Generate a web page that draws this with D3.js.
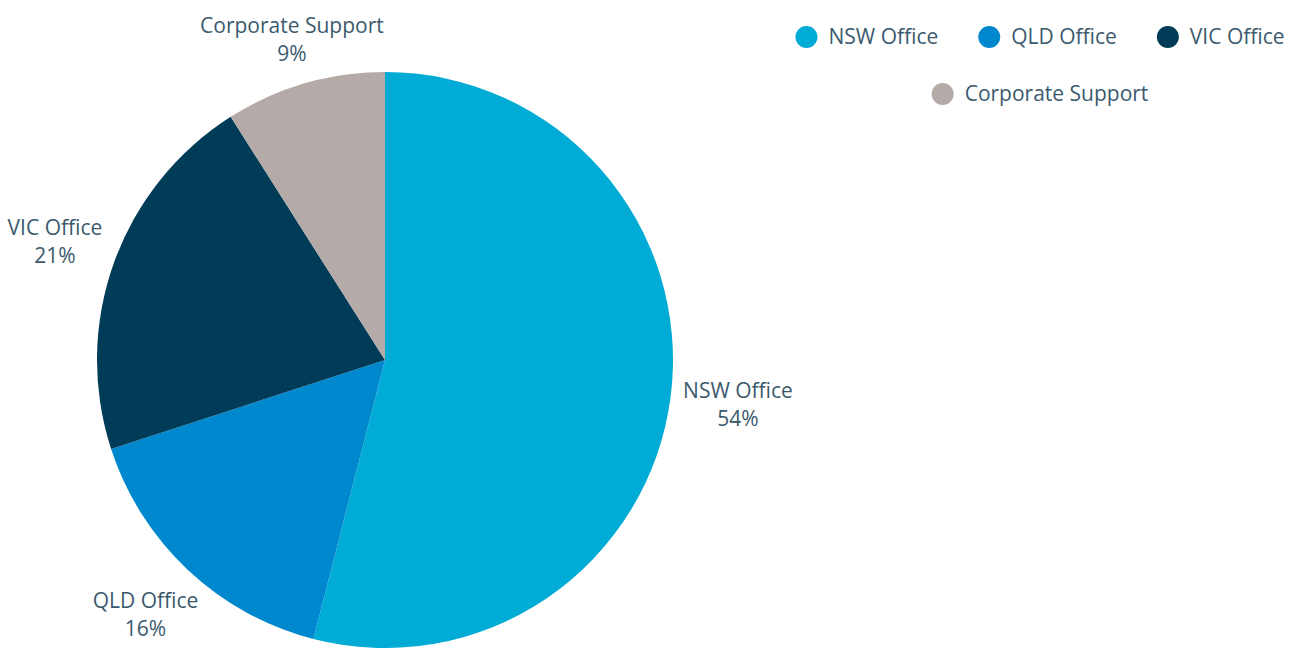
<!DOCTYPE html>
<html>
<head>
<meta charset="utf-8">
<script src="https://cdn.jsdelivr.net/npm/d3@7"></script>
<style>
  body { margin: 0; background: #fff; }
  svg text { font-family: "Open Sans", sans-serif; font-weight: 500; fill: #3b5a6d; }
</style>
</head>
<body>
<div class="container"></div>
<script>
var width = 1305;
var height = 649;
var cx = 385, cy = 360, radius = 288;
var labelClear = 299;
var legendCenter = 1040;
var fontSize = 21;
var lineGap = 28;

var categories = ["NSW Office", "QLD Office", "VIC Office", "Corporate Support"];
var shares = [54, 16, 21, 9];
var colors = ["#00abd5", "#0088cf", "#003b57", "#b4aaa7"];
var legendRows = [[0, 1, 2], [3]];

var data = categories.map((c, i) => ({name: c, value: shares[i], color: colors[i]}));

var svg = d3.select(".container")
  .append("svg")
  .attr("width", width).attr("height", height);

//-----------------------------------------
// 1. PIE
var pie = d3.pie().value(d => d.value).sort(null);
var arc = d3.arc().innerRadius(0).outerRadius(radius);
var arcs = pie(data);

var g = svg.append("g").attr("transform", "translate(" + cx + "," + cy + ")");
g.selectAll(".slice")
  .data(arcs)
  .enter()
  .append("path")
  .attr("class", "slice")
  .attr("d", arc)
  .attr("fill", d => d.data.color);

//-----------------------------------------
// 2. LABELS - two lines, pushed out along the mid angle until the box clears a circle
var labels = g.selectAll(".label")
  .data(arcs)
  .enter()
  .append("text")
  .attr("class", "label")
  .attr("text-anchor", "middle")
  .attr("font-size", fontSize);

labels.append("tspan").attr("x", 0).attr("y", -lineGap / 2).attr("dy", "0.35em").text(d => d.data.name);
labels.append("tspan").attr("x", 0).attr("y", lineGap / 2).attr("dy", "0.35em").text(d => d.data.value + "%");

function box_dist(px, py, hw, hh){
  var dx = Math.max(Math.abs(px) - hw, 0);
  var dy = Math.max(Math.abs(py) - hh, 0);
  return Math.sqrt(dx * dx + dy * dy);
}

labels.attr("transform", function(d) {
  var a = (d.startAngle + d.endAngle) / 2;
  var ux = Math.sin(a), uy = -Math.cos(a);
  var hw = this.getBBox().width / 2;
  var hh = (lineGap + 15) / 2;
  var lo = 0, hi = labelClear + 300;
  for (var k = 0; k < 40; k++) {
    var mid = (lo + hi) / 2;
    if (box_dist(ux * mid, uy * mid, hw, hh) < labelClear) lo = mid; else hi = mid;
  }
  return "translate(" + (ux * hi) + "," + (uy * hi) + ")";
});

//-----------------------------------------
// 3. LEGEND
var legendY = [37, 94];
var symbolR = 11, symbolGap = 11, itemGap = 40;

legendRows.forEach(function(row, r) {
  var lg = svg.append("g");
  var x = 0;
  row.forEach(function(idx) {
    var item = lg.append("g").attr("transform", "translate(" + x + ",0)");
    item.append("circle")
      .attr("cx", symbolR).attr("cy", 0).attr("r", symbolR)
      .attr("fill", colors[idx]);
    var t = item.append("text")
      .attr("x", symbolR * 2 + symbolGap)
      .attr("y", 0)
      .attr("dy", "0.35em")
      .attr("font-size", fontSize)
      .text(categories[idx]);
    x += symbolR * 2 + symbolGap + t.node().getComputedTextLength() + itemGap;
  });
  var rowWidth = x - itemGap;
  lg.attr("transform", "translate(" + (legendCenter - rowWidth / 2) + "," + legendY[r] + ")");
});
</script>
</body>
</html>
